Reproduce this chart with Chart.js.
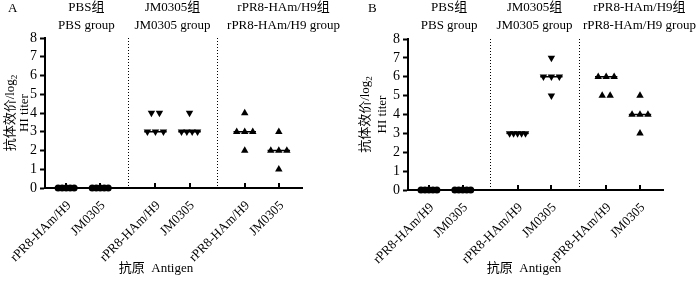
<!DOCTYPE html>
<html>
<head>
<meta charset="utf-8">
<script src="https://cdn.jsdelivr.net/npm/chart.js@4"></script>
<style>
  body { margin: 0; background: #fff; width: 700px; height: 282px; position: relative; overflow: hidden; }
  canvas { position: absolute; top: 0; }
</style>
</head>
<body>
<canvas id="chartA" width="350" height="282" style="left:0"></canvas>
<canvas id="chartB" width="350" height="282" style="left:350px"></canvas>
<script>
const groupsZh = ['PBS组', 'JM0305组', 'rPR8-HAm/H9组'];
const groupsEn = ['PBS group', 'JM0305 group', 'rPR8-HAm/H9 group'];
const antigens = ['rPR8-HAm/H9', 'JM0305'];
const yTicks = [0, 1, 2, 3, 4, 5, 6, 7, 8];

// HI titer (log2), 5 birds per column: [rPR8-HAm/H9 antigen, JM0305 antigen]
const pbsA = [[0, 0, 0, 0, 0], [0, 0, 0, 0, 0]];
const jmA  = [[4, 4, 3, 3, 3], [4, 3, 3, 3, 3]];
const rprA = [[4, 3, 3, 3, 2], [3, 2, 2, 2, 1]];

const pbsB = [[0, 0, 0, 0, 0], [0, 0, 0, 0, 0]];
const jmB  = [[3, 3, 3, 3, 3], [7, 6, 6, 6, 5]];
const rprB = [[6, 6, 6, 5, 5], [5, 4, 4, 4, 3]];

// column centres on the x axis (groups separated by a wider gap)
const colPos = [0, 1, 2.62, 3.62, 5.24, 6.24];
const pxPerUnit = 34;
const FONT = '"Liberation Serif", "Times New Roman", "Noto Sans CJK SC", serif';

const markers = [
  { pointStyle: 'circle', radius: 3.5, rotation: 0 },
  { pointStyle: 'triangle', radius: 4.3, rotation: 180 },
  { pointStyle: 'triangle', radius: 4.3, rotation: 0 }
];

// spread equal values sideways like a column scatter plot
function spread(vals, x0) {
  const counts = {};
  vals.forEach(v => counts[v] = (counts[v] || 0) + 1);
  const seen = {};
  return vals.map(v => {
    const n = counts[v];
    const i = seen[v] = (seen[v] === undefined ? 0 : seen[v] + 1);
    const s = n > 1 ? Math.min(8, 16 / (n - 1)) : 0;
    return { x: x0 + (i - (n - 1) / 2) * s / pxPerUnit, y: v };
  });
}

function median(vals) {
  const s = [...vals].sort((a, b) => a - b);
  return s[Math.floor(s.length / 2)];
}

const decor = {
  id: 'decor',
  beforeDatasetsDraw(chart, args, opts) {
    const { ctx, chartArea: a, scales: { x } } = chart;
    ctx.save();
    ctx.strokeStyle = '#000';
    ctx.lineWidth = 2;
    colPos.forEach(v => {
      const px = Math.round(x.getPixelForValue(v));
      ctx.beginPath();
      ctx.moveTo(px, a.bottom);
      ctx.lineTo(px, a.bottom - 5);
      ctx.stroke();
    });
    ctx.lineWidth = 1;
    ctx.setLineDash([1, 2]);
    [(colPos[1] + colPos[2]) / 2, (colPos[3] + colPos[4]) / 2].forEach(v => {
      const px = Math.round(x.getPixelForValue(v)) + 0.5;
      ctx.beginPath();
      ctx.moveTo(px, a.top);
      ctx.lineTo(px, a.bottom);
      ctx.stroke();
    });
    ctx.restore();
  },
  afterDraw(chart, args, opts) {
    const { ctx, chartArea: a, scales: { x } } = chart;
    const s1 = x.getPixelForValue((colPos[1] + colPos[2]) / 2);
    const s2 = x.getPixelForValue((colPos[3] + colPos[4]) / 2);
    const edges = [a.left, s1, s2, chart.width];
    ctx.save();
    ctx.fillStyle = '#000';
    ctx.textBaseline = 'middle';
    ctx.font = '13px ' + FONT;
    ctx.textAlign = 'left';
    ctx.fillText(opts.letter, opts.letterX, 9);
    ctx.textAlign = 'center';
    for (let g = 0; g < 3; g++) {
      const cx = (edges[g] + edges[g + 1]) / 2;
      ctx.fillText(groupsZh[g], cx, 8);
      ctx.fillText(groupsEn[g], cx, 26);
    }
    ctx.fillText('抗原  Antigen', opts.xTitleX, 269);

    // y axis title, two rotated lines
    const cy = (a.top + a.bottom) / 2;
    ctx.save();
    ctx.translate(opts.yTitleX1, cy);
    ctx.rotate(-Math.PI / 2);
    const main = '抗体效价/log';
    const w1 = ctx.measureText(main).width;
    ctx.font = '9px ' + FONT;
    const w2 = ctx.measureText('2').width;
    ctx.font = '13px ' + FONT;
    ctx.textAlign = 'left';
    ctx.fillText(main, -(w1 + w2) / 2, 0);
    ctx.font = '9px ' + FONT;
    ctx.fillText('2', -(w1 + w2) / 2 + w1, 4);
    ctx.restore();
    ctx.save();
    ctx.translate(opts.yTitleX2, cy);
    ctx.rotate(-Math.PI / 2);
    ctx.textAlign = 'center';
    ctx.fillText('HI titer', 0, 0);
    ctx.restore();
    ctx.restore();
  }
};

function makeChart(p) {
  const datasets = [];
  p.cols.forEach((vals, c) => {
    const m = markers[Math.floor(c / 2)];
    const med = median(vals);
    datasets.push({
      type: 'line',
      data: [{ x: colPos[c] - 0.33, y: med }, { x: colPos[c] + 0.33, y: med }],
      borderColor: '#000',
      borderWidth: 1.5,
      pointRadius: 0,
      clip: false
    });
    datasets.push({
      data: spread(vals, colPos[c]),
      pointStyle: m.pointStyle,
      pointRadius: m.radius,
      rotation: m.rotation,
      backgroundColor: '#000',
      borderColor: '#000',
      borderWidth: 0,
      showLine: false,
      clip: false
    });
  });
  return new Chart(document.getElementById(p.id), {
    type: 'scatter',
    data: { datasets },
    plugins: [decor],
    options: {
      responsive: false,
      animation: false,
      layout: { padding: { top: p.top, right: 350 - p.right, left: 0, bottom: 0 } },
      plugins: {
        legend: { display: false },
        tooltip: { enabled: false },
        decor: { letter: p.letter, letterX: p.letterX, xTitleX: p.xTitleX, yTitleX1: p.yTitleX1, yTitleX2: p.yTitleX2 }
      },
      scales: {
        x: {
          type: 'linear',
          min: -0.62,
          max: 6.92,
          afterBuildTicks: s => { s.ticks = colPos.map(v => ({ value: v })); },
          afterFit: s => { s.height = 282 - p.bottom; s.paddingLeft = 0; s.paddingRight = 0; },
          grid: { display: false },
          border: { display: true, color: '#000', width: 2 },
          ticks: {
            autoSkip: false, minRotation: 45, maxRotation: 45, padding: 2, labelOffset: 3,
            color: '#000', font: { family: FONT, size: 13 },
            callback: (v, i) => antigens[i % 2]
          }
        },
        y: {
          min: 0,
          max: 8,
          afterBuildTicks: s => { s.ticks = yTicks.map(v => ({ value: v })); },
          afterFit: s => { s.width = p.left; },
          grid: { drawOnChartArea: false, drawTicks: true, tickLength: 5, tickWidth: 2, tickColor: '#000' },
          border: { color: '#000', width: 2 },
          ticks: { autoSkip: false, padding: 3, color: '#000', font: { family: FONT, size: 14 } }
        }
      }
    }
  });
}

makeChart({ id: 'chartA', letter: 'A', letterX: 8, cols: [...pbsA, ...jmA, ...rprA],
  left: 45, top: 38, right: 302, bottom: 188, xTitleX: 156, yTitleX1: 11, yTitleX2: 25 });
makeChart({ id: 'chartB', letter: 'B', letterX: 18, cols: [...pbsB, ...jmB, ...rprB],
  left: 58, top: 39, right: 313, bottom: 190, xTitleX: 174, yTitleX1: 16, yTitleX2: 33 });
</script>
</body>
</html>
